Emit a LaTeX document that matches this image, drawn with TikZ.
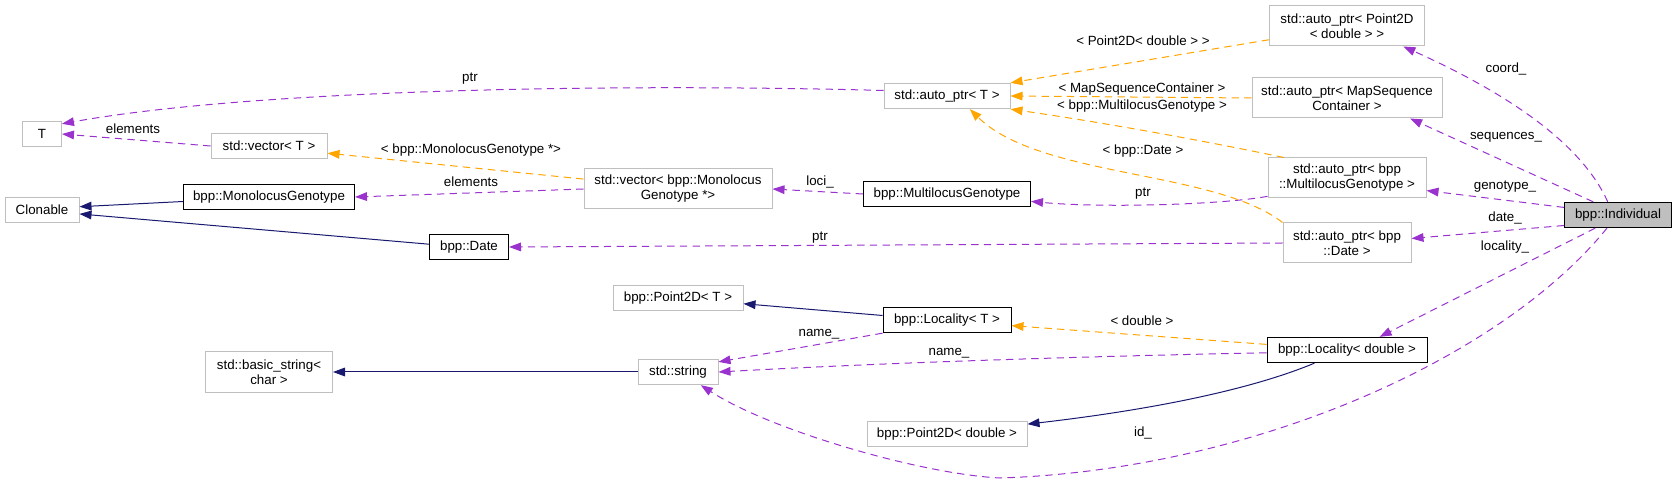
\documentclass[tikz,border=0pt]{standalone}
\usepackage{fontspec}
\setmainfont{Liberation Sans}
\usepackage{tikz}
\usetikzlibrary{arrows.meta}
\definecolor{depcol}{HTML}{9A32CD}
\definecolor{tplcol}{HTML}{FFA500}
\definecolor{inhcol}{HTML}{191970}
\definecolor{boxgray}{HTML}{BFBFBF}

\begin{document}
\begin{tikzpicture}[x=0.75pt, y=-0.75pt,
	every node/.style={font=\fontsize{10}{11.25}\selectfont, inner sep=0pt, align=center},
	cls/.style={draw=boxgray, line width=0.75pt, minimum height=19pt},
	two/.style={minimum height=30pt},
	cur/.style={cls, draw=black},
	dep/.style={draw=depcol, line width=0.75pt, dash pattern=on 5.5pt off 4pt, -{Triangle[length=9pt,width=6.5pt]}},
	tpl/.style={dep, draw=tplcol},
	inh/.style={draw=inhcol, line width=0.75pt, -{Triangle[length=9pt,width=6.5pt]}},
	lbl/.style={fill=none}]
	\useasboundingbox (0,0) rectangle (1677,484);
	% classes
	\node[cls, minimum width=29.25pt] (T) at (42,134) {T};
	\node[cls, minimum width=55.5pt] (Clonable) at (42,210) {Clonable};
	\node[cls, minimum width=87pt] (vecT) at (269,146) {std::vector< T >};
	\node[cur, minimum width=128.25pt] (MonoGen) at (269,197) {bpp::MonolocusGenotype};
	\node[cur, minimum width=59.25pt] (Date) at (469,247) {bpp::Date};
	\node[cls, two, minimum width=95.25pt] (bstring) at (269,372) {std::basic\_string<\\char >};
	\node[cls, two, minimum width=141pt] (vecMono) at (678,189) {std::vector< bpp::Monolocus\\Genotype *>};
	\node[cls, minimum width=97.5pt] (PointT) at (678,298) {bpp::Point2D< T >};
	\node[cls, minimum width=60pt] (string) at (678,372) {std::string};
	\node[cls, minimum width=94.5pt] (autoT) at (947,96) {std::auto\_ptr< T >};
	\node[cur, minimum width=125.25pt] (MultiGen) at (947,194) {bpp::MultilocusGenotype};
	\node[cur, minimum width=96pt] (LocT) at (947,320) {bpp::Locality< T >};
	\node[cls, minimum width=120pt] (PointD) at (947,434) {bpp::Point2D< double >};
	\node[cls, two, minimum width=116.25pt] (apPoint) at (1347,26) {std::auto\_ptr< Point2D\\< double > >};
	\node[cls, two, minimum width=142.5pt] (apMap) at (1347,98) {std::auto\_ptr< MapSequence\\Container >};
	\node[cls, two, minimum width=118.5pt] (apMulti) at (1347,178) {std::auto\_ptr< bpp\\::MultilocusGenotype >};
	\node[cls, two, minimum width=96pt] (apDate) at (1347,243) {std::auto\_ptr< bpp\\::Date >};
	\node[cur, minimum width=120pt] (LocD) at (1347,350) {bpp::Locality< double >};
	\node[cur, fill=boxgray, minimum width=80.25pt] (Indiv) at (1618,215) {bpp::Individual};
	\coordinate (idbend) at (1000,478);

	% edges
	\draw[dep] (autoT.175) .. controls (600,83) and (250,90) .. (T.27);
	\draw[dep] (vecT.west) -- (T.east);
	\draw[tpl] (vecMono.174) -- (vecT.353);
	\draw[dep] (vecMono.west) -- (MonoGen.east);
	\draw[inh] (MonoGen.183) -- (Clonable.5);
	\draw[inh] (Date.176) -- (Clonable.354);
	\draw[dep] (MultiGen.west) -- (vecMono.east);
	\draw[dep] (apDate.west) -- (Date.east);
	\draw[dep] (apMulti.193) .. controls (1220,205) and (1100,208) .. (MultiGen.355);
	\draw[tpl] (apPoint.190) -- (autoT.north east);
	\draw[tpl] (apMap.west) -- (autoT.east);
	\draw[tpl] (apMulti.162) .. controls (1200,140) and (1100,122) .. (autoT.south east);
	\draw[tpl] (apDate.north west) .. controls (1215,170) and (1040,178) .. (autoT.-30);
	\draw[tpl] (LocD.176) -- (LocT.355);
	\draw[dep] (LocD.182) .. controls (1100,356) and (900,362) .. (string.east);
	\draw[dep] (LocT.south west) -- (string.14);
	\draw[inh] (LocT.176) -- (PointT.355);
	\draw[inh] (string.west) -- (bstring.east);
	\draw[inh] (LocD.202) .. controls (1250,390) and (1150,410) .. (PointD.7);
	\draw[dep] (Indiv.128) .. controls (1580,140) and (1500,90) .. (apPoint.-20);
	\draw[dep] (Indiv.152) -- (apMap.-18);
	\draw[dep] (Indiv.172) -- (apMulti.-9);
	\draw[dep] (Indiv.191) -- (apDate.4);
	\draw[dep] (Indiv.210) -- (LocD.22);
	\draw[dep] (Indiv.230) .. controls (1500,360) and (1250,470) .. (idbend)
		.. controls (920,474) and (770,430) .. (string.-30);

	% labels
	\node[lbl] (lptrT) at (470,79) {ptr};
	\node[lbl] (lelemT) at (133,129) {elements};
	\node[lbl] (lvecmono) at (471,150) {< bpp::MonolocusGenotype *>};
	\node[lbl] (lelemM) at (471,182) {elements};
	\node[lbl] (lloci) at (820,182) {loci\_};
	\node[lbl] (lptrD) at (820,238) {ptr};
	\node[lbl] (lptrM) at (1143,194) {ptr};
	\node[lbl] (lpoint) at (1143,41) {< Point2D< double > >};
	\node[lbl] (lmap) at (1142,89) {< MapSequenceContainer >};
	\node[lbl] (lmulti) at (1142,106) {< bpp::MultilocusGenotype >};
	\node[lbl] (ldate) at (1143,151) {< bpp::Date >};
	\node[lbl] (ldouble) at (1142,321) {< double >};
	\node[lbl] (lnameD) at (949,353) {name\_};
	\node[lbl] (lnameT) at (819,334) {name\_};
	\node[lbl] (lcoord) at (1506,69) {coord\_};
	\node[lbl] (lseq) at (1506,137) {sequences\_};
	\node[lbl] (lgeno) at (1505,187) {genotype\_};
	\node[lbl] (ldateI) at (1505,218) {date\_};
	\node[lbl] (lloc) at (1505,247) {locality\_};
	\node[lbl] (lid) at (1143,433) {id\_};
\end{tikzpicture}
\end{document}
